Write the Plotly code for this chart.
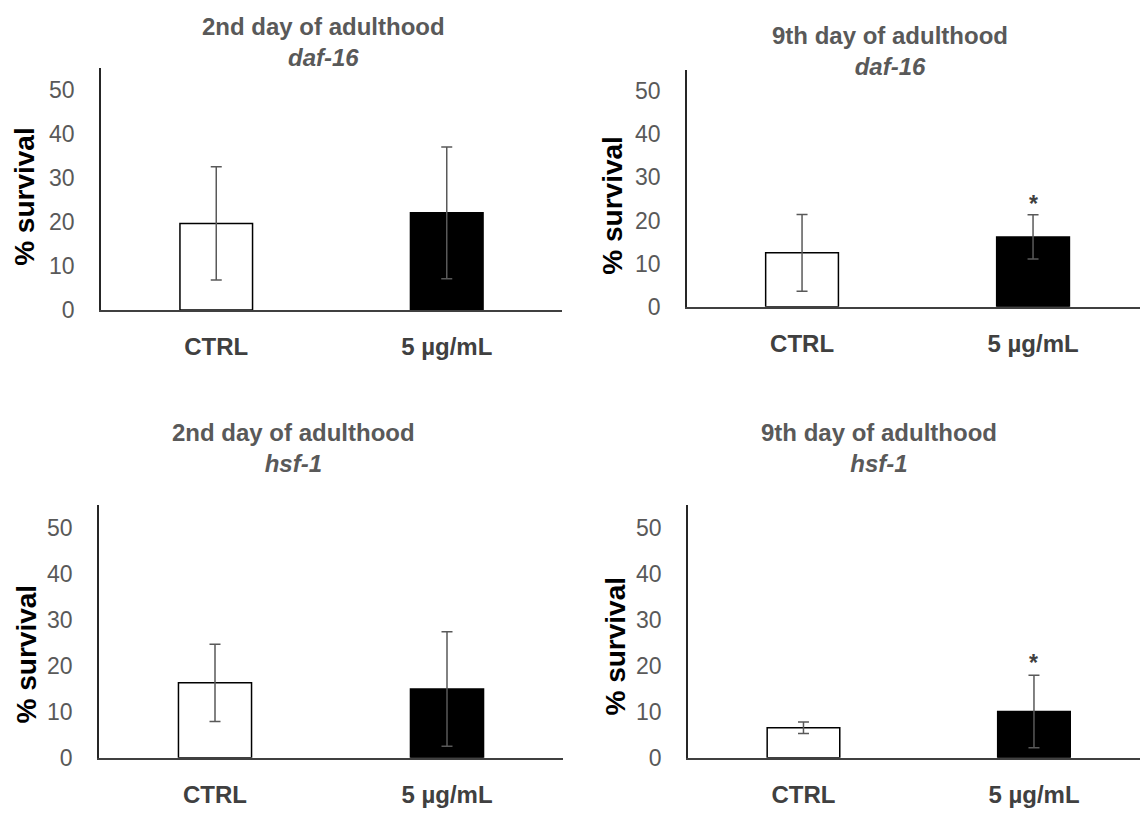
import plotly.graph_objects as go

categories = ["CTRL", "5 µg/mL"]
day_titles = ["2nd day of adulthood", "9th day of adulthood", "2nd day of adulthood", "9th day of adulthood"]
genes = ["daf-16", "daf-16", "hsf-1", "hsf-1"]

means_p1 = [19.7, 22.1]
errs_p1 = [12.9, 15.0]
means_p2 = [12.5, 16.2]
errs_p2 = [8.9, 5.15]
means_p3 = [16.3, 14.95]
errs_p3 = [8.4, 12.45]
means_p4 = [6.5, 10.05]
errs_p4 = [1.25, 7.9]

star_flags = [False, True, False, True]
star_y = [None, 23.9, None, 20.6]

yticks = [0, 10, 20, 30, 40, 50]

W, H = 1140, 815
FONT = "Liberation Sans, Arial, sans-serif"
GRAY = "#595959"
DARK = "#404040"

panels = [
    dict(means=means_p1, errs=errs_p1, xdom=(101, 562), ydom=(315, 69.4), xr=(-0.5, 1.5),
         title_xy=(323, 43), ytitle_xy=(25, 200)),
    dict(means=means_p2, errs=errs_p2, xdom=(687, 1140), ydom=(311.7, 70.8), xr=(-0.498, 1.463),
         title_xy=(890, 51.5), ytitle_xy=(613, 209)),
    dict(means=means_p3, errs=errs_p3, xdom=(99, 563), ydom=(770, 513.3), xr=(-0.5, 1.5),
         title_xy=(293, 455), ytitle_xy=(26, 665)),
    dict(means=means_p4, errs=errs_p4, xdom=(688, 1140), ydom=(770, 513.3), xr=(-0.501, 1.460),
         title_xy=(879, 455), ytitle_xy=(616, 657)),
]

fig = go.Figure()
annotations = []
layout = {}
for i, p in enumerate(panels):
    n = "" if i == 0 else str(i + 1)
    xa, ya = "x" + n, "y" + n
    fig.add_trace(go.Bar(
        x=categories, y=p["means"], xaxis=xa, yaxis=ya, width=0.315,
        marker=dict(color=["white", "black"], line=dict(color="black", width=1.5)),
        error_y=dict(type="data", array=p["errs"], visible=True, color=GRAY, thickness=1.5, width=5.5),
        showlegend=False, hoverinfo="skip",
    ))
    layout["xaxis" + n] = dict(
        domain=[p["xdom"][0] / W, p["xdom"][1] / W], anchor=ya, range=list(p["xr"]),
        showline=True, linecolor=DARK, linewidth=2, ticks="", showgrid=False, zeroline=False,
        tickfont=dict(family=FONT, size=24, color=DARK, weight="bold"), ticklabelstandoff=14,
        fixedrange=True,
    )
    layout["yaxis" + n] = dict(
        domain=[1 - p["ydom"][0] / H, 1 - p["ydom"][1] / H], anchor=xa, range=[0, 55],
        tickvals=yticks, showline=True, linecolor="#262626", linewidth=1.5, ticks="",
        showgrid=False, zeroline=False, ticklabelstandoff=20,
        tickfont=dict(family=FONT, size=23, color=GRAY), fixedrange=True,
    )
    tx, ty = p["title_xy"]
    annotations.append(dict(
        x=tx / W, y=1 - ty / H, xref="paper", yref="paper", showarrow=False,
        xanchor="center", yanchor="middle", align="center",
        text=f"<b>{day_titles[i]}</b><br><b><i>{genes[i]}</i></b>",
        font=dict(family=FONT, size=24, color=GRAY),
    ))
    yx, yy = p["ytitle_xy"]
    annotations.append(dict(
        x=yx / W, y=1 - yy / H, xref="paper", yref="paper", showarrow=False,
        xanchor="center", yanchor="middle", textangle=-90,
        text="<b>% survival</b>", font=dict(family=FONT, size=28, color="black"),
    ))
    if star_flags[i]:
        annotations.append(dict(
            x=1, y=star_y[i], xref=xa, yref=ya, showarrow=False,
            xanchor="center", yanchor="middle", text="<b>*</b>",
            font=dict(family=FONT, size=23, color=DARK),
        ))

fig.update_layout(
    width=W, height=H, margin=dict(l=0, r=0, t=0, b=0),
    paper_bgcolor="white", plot_bgcolor="white",
    annotations=annotations, **layout,
)
fig.write_html("out.html")
